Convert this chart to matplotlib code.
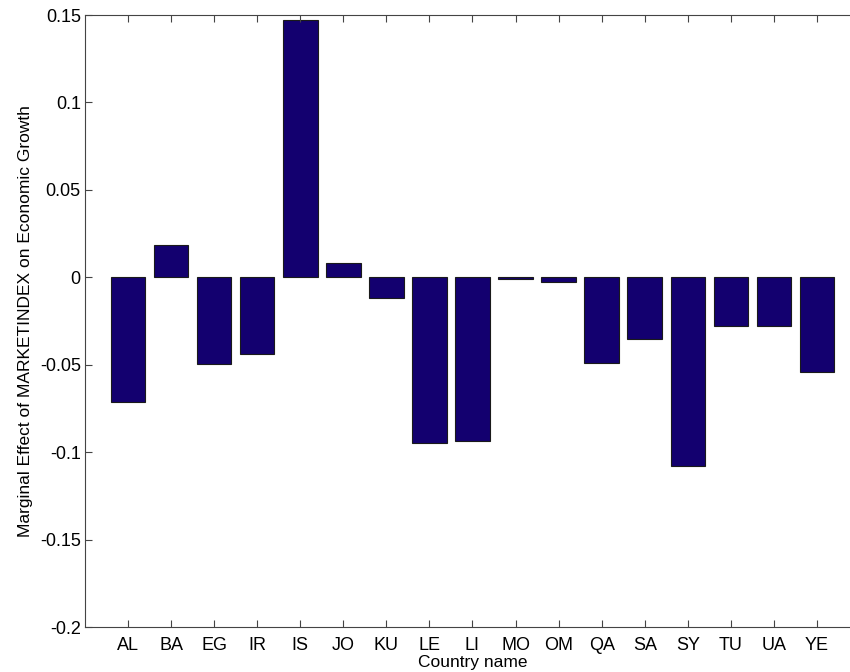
import numpy as np
import matplotlib
matplotlib.use("Agg")
import matplotlib.pyplot as plt

plt.rcParams['font.family'] = ['Liberation Sans', 'DejaVu Sans']

countries = ["AL", "BA", "EG", "IR", "IS", "JO", "KU", "LE", "LI",
             "MO", "OM", "QA", "SA", "SY", "TU", "UA", "YE"]
effects = [-0.0711, 0.0186, -0.0495, -0.0438, 0.1469, 0.0083, -0.0117,
           -0.0945, -0.0935, -0.0008, -0.0025, -0.0488, -0.0353,
           -0.1082, -0.0276, -0.0276, -0.0541]

fig = plt.figure(figsize=(8.5, 6.72), dpi=100)
# right edge of the box falls just outside the picture, as in the original
ax = fig.add_axes([0.1, 45 / 672, 775 / 850, 612 / 672])

x = np.arange(1, len(countries) + 1)
ax.bar(x, effects, width=0.8, color='#13006f', edgecolor='#1a1a1a', linewidth=0.8)

ax.set_xlim(0, len(countries) + 1)
ax.set_ylim(-0.2, 0.15)
ax.set_xticks(x)
ax.set_xticklabels(countries)
ax.set_yticks([-0.2, -0.15, -0.1, -0.05, 0, 0.05, 0.1, 0.15])
ax.set_yticklabels(['-0.2', '-0.15', '-0.1', '-0.05', '0', '0.05', '0.1', '0.15'])

ax.tick_params(direction='in', length=5, width=0.8, color='#444444',
               labelsize=13, top=True, right=True)
ax.tick_params(axis='x', pad=7)
ax.tick_params(axis='y', pad=3)
for s in ax.spines.values():
    s.set_color('#444444')
    s.set_linewidth(0.8)

ax.set_xlabel('Country name', fontsize=12.5, labelpad=1)
ax.set_ylabel('Marginal Effect of MARKETINDEX on Economic Growth', fontsize=12.5, labelpad=5)

plt.savefig('out.png', dpi=100)
